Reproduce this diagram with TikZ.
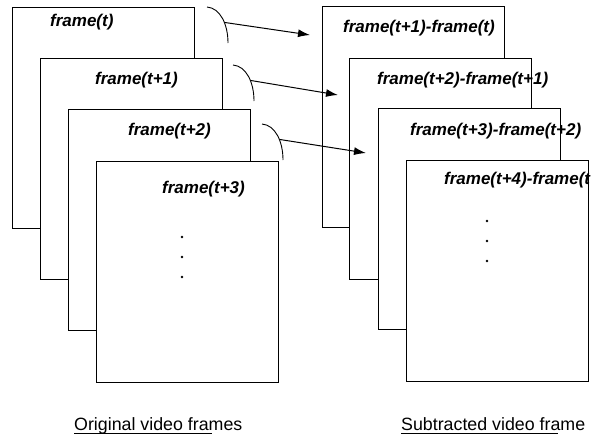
\documentclass[tikz,border=0pt]{standalone}
\usepackage{fontspec}
\setmainfont{Liberation Sans}
\usetikzlibrary{arrows.meta}
\tikzset{
	frm/.style={draw, fill=white, line width=0.8pt, inner sep=0pt, outer sep=0pt, anchor=north west, minimum width=182.5pt, minimum height=221.5pt},
	lbl/.style={anchor=west, inner sep=0pt, font=\fontsize{17}{20}\selectfont\bfseries\itshape},
	foot/.style={anchor=base west, inner sep=0pt, font=\fontsize{17.8}{21}\selectfont},
	hook/.style={line width=0.9pt},
	arr/.style={line width=1pt, -{Latex[length=12pt,width=8pt]}},
	dot/.style={circle, fill, inner sep=0pt, minimum size=2.6pt},
}
\begin{document}
\begin{tikzpicture}[x=1pt, y=-1pt]
		\useasboundingbox (0,0) rectangle (599,437);
		%original frames
		\node[frm] (o0) at (12,7) {};
		\node[lbl] (lo0) at (50,22) {frame(t)};
		\node[frm] (o1) at (40,58) {};
		\node[lbl] (lo1) at (95,80) {frame(t+1)};
		\node[frm] (o2) at (68,109) {};
		\node[lbl] (lo2) at (128,131) {frame(t+2)};
		\node[frm] (o3) at (96,161) {};
		\node[lbl] (lo3) at (162,189) {frame(t+3)};
		
		%subtracted frames
		\node[frm] (d0) at (322,6) {};
		\node[lbl] (ld0) at (343,28) {frame(t+1)-frame(t)};
		\node[frm] (d1) at (349,58) {};
		\node[lbl] (ld1) at (377,80) {frame(t+2)-frame(t+1)};
		\node[frm] (d2) at (378,108) {};
		\node[lbl] (ld2) at (410,131) {frame(t+3)-frame(t+2)};
		\node[frm] (d3) at (406,160) {};
		\node[lbl] (ld3) at (444,180) {frame(t+4)-frame(t};
		
		\foreach \i in {0, 1, 2}{
			\node[dot] (od\i) at (182, 237+20*\i) {};
			\node[dot] (dd\i) at (487, 221+20*\i) {};
		}
		
		%hooks and arrows
		\foreach \dx/\dy/\tx/\ty [count=\k from 0] in {0/0/310/35, 26/58/338/95, 55/117/366/153}{
			\draw[hook] (207+\dx, 7+\dy) .. controls (220+\dx, 8+\dy) and (228+\dx, 24+\dy) .. (228+\dx, 43+\dy) coordinate[pos=0.6] (h\k);
			\coordinate (t\k) at (\tx, \ty);
			\draw[arr] (h\k) -- (t\k);
		}
		
		%captions
		\node[foot] (co) at (74,430) {Original video frames};
		\draw[line width=0.8pt] ([yshift=-3pt]co.base west) -- ++(138,0);
		\node[foot] (cd) at (401,430) {Subtracted video frame};
		\draw[line width=0.8pt] ([yshift=-3pt]cd.base west) -- ++(157,0);
\end{tikzpicture}
\end{document}
